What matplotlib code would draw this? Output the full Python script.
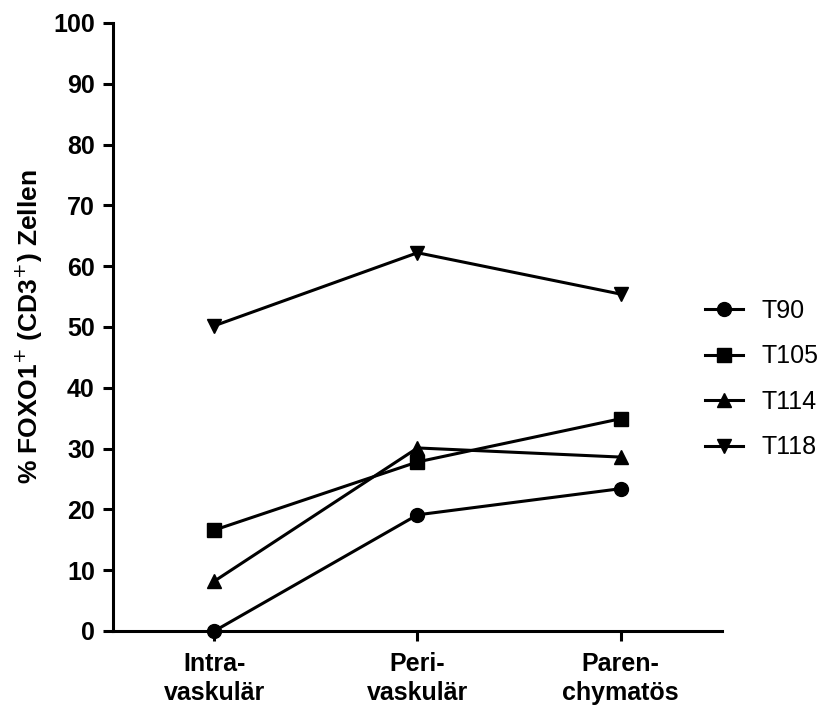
import numpy as np
import matplotlib.pyplot as plt

plt.rcParams['font.family'] = ['Liberation Sans', 'DejaVu Sans']

categories = ['Intra-\nvaskulär', 'Peri-\nvaskulär', 'Paren-\nchymatös']
series_names = ['T90', 'T105', 'T114', 'T118']
t90 = [0.0, 19.1, 23.4]
t105 = [16.6, 27.8, 34.9]
t114 = [8.2, 30.1, 28.6]
t118 = [50.2, 62.2, 55.4]
markers = ['o', 's', '^', 'v']

fig = plt.figure(figsize=(8.3, 7.15), dpi=100)
ax = fig.add_axes([0.136, 0.1175, 0.734, 0.8505])

x = np.arange(len(categories))
for name, vals, m in zip(series_names, [t90, t105, t114, t118], markers):
    ax.plot(x, vals, color='black', lw=2.2, marker=m, markersize=10,
            label=name, clip_on=False, zorder=3)

ax.set_xlim(-0.5, 2.5)
ax.set_ylim(0, 100)
ax.set_yticks(range(0, 101, 10))
ax.set_xticks(x)
ax.set_xticklabels(categories, fontsize=18, fontweight='bold', linespacing=1.25)
ax.tick_params(axis='y', labelsize=18, width=2.2, length=7, pad=6)
ax.tick_params(axis='x', width=2.2, length=7, pad=8)
for lab in ax.get_yticklabels():
    lab.set_fontweight('bold')

ax.spines['top'].set_visible(False)
ax.spines['right'].set_visible(False)
ax.spines['left'].set_linewidth(2.2)
ax.spines['bottom'].set_linewidth(2.2)

ax.set_ylabel('% FOXO1$^{+}$ (CD3$^{+}$) Zellen', fontsize=19, fontweight='bold',
              labelpad=6)

fig.legend(loc='center left', bbox_to_anchor=(705 / 830, 1 - 379 / 715),
           frameon=False, fontsize=18, handlelength=1.5, labelspacing=0.86,
           handletextpad=0.75, borderpad=0, borderaxespad=0)

fig.savefig('out.png', dpi=100)
